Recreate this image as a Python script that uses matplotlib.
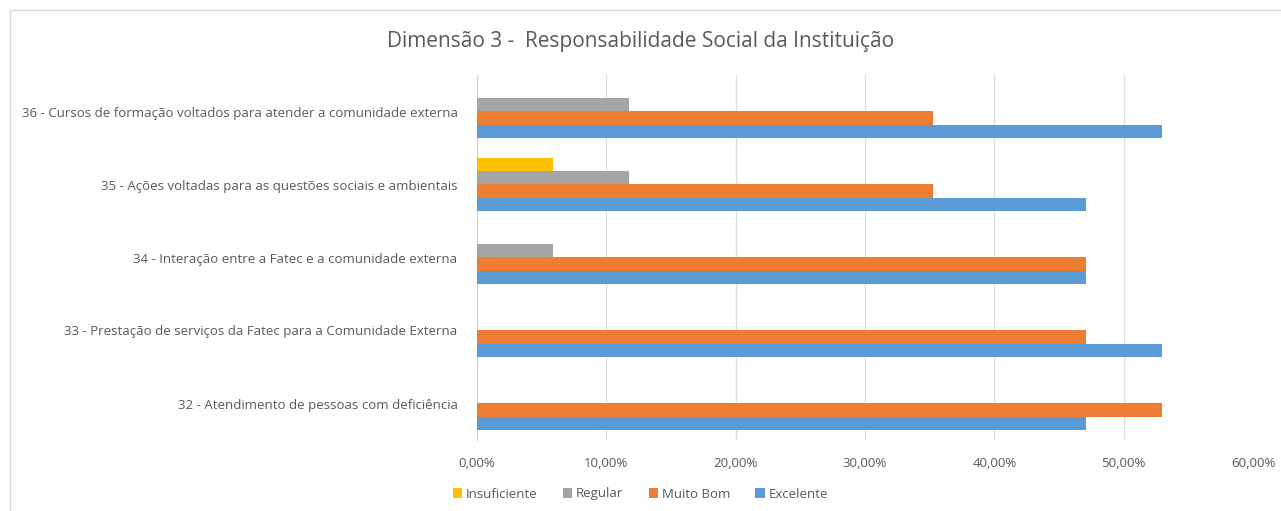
import matplotlib
matplotlib.use("Agg")
import matplotlib.pyplot as plt
from matplotlib.patches import Rectangle
from matplotlib.ticker import FuncFormatter
import numpy as np

categories = [
    "32 - Atendimento de pessoas com deficiência",
    "33 - Prestação de serviços da Fatec para a Comunidade Externa",
    "34 - Interação entre a Fatec e a comunidade externa",
    "35 - Ações voltadas para as questões sociais e ambientais",
    "36 - Cursos de formação voltados para atender a comunidade externa",
]
series_names = ["Insuficiente", "Regular", "Muito Bom", "Excelente"]
insuficiente = [0.0, 0.0, 0.0, 5.88, 0.0]
regular = [0.0, 0.0, 5.88, 11.76, 11.76]
muito_bom = [52.94, 47.06, 47.06, 35.29, 35.29]
excelente = [47.06, 52.94, 47.06, 47.06, 52.94]
colors = ["#FFC000", "#A5A5A5", "#ED7D31", "#5B9BD5"]
xticks = [0, 10, 20, 30, 40, 50, 60]

plt.rcParams['font.family'] = ['Open Sans', 'DejaVu Sans']
txt = "#595959"

fig = plt.figure(figsize=(12.81, 5.11), dpi=100)
fig.patches.append(Rectangle((10/1281, -0.1), 1.2, 1 - 10/511 + 0.1, transform=fig.transFigure,
                             fill=False, edgecolor="#D9D9D9", linewidth=1))
ax = fig.add_axes([477/1281, 1 - 440/511, (1253 - 477)/1281, (440 - 75)/511])

data = [insuficiente, regular, muito_bom, excelente]
n = len(series_names)
bh = 0.714 / n
y = np.arange(len(categories))
for i, (name, vals, c) in enumerate(zip(series_names, data, colors)):
    off = (1.5 - i) * bh
    ax.barh(y + off, vals, height=bh, color=c, label=name, zorder=3)

ax.set_ylim(-0.5, len(categories) - 0.5)
ax.set_xlim(0, 60)
ax.set_xticks(xticks)
ax.xaxis.set_major_formatter(FuncFormatter(lambda v, p: f"{v:.2f}%".replace(".", ",")))
ax.set_yticks(y)
ax.set_yticklabels(categories)
ax.tick_params(axis='both', length=0, colors=txt, labelsize=9.5)
ax.tick_params(axis='y', pad=14)
ax.tick_params(axis='x', pad=12)
ax.grid(axis='x', color="#DDDDDD", linewidth=0.9, zorder=0)
for s in ["top", "right", "bottom"]:
    ax.spines[s].set_visible(False)
ax.spines["left"].set_color("#D0D0D0")

fig.text(0.5, 1 - 42/511, "Dimensão 3 -  Responsabilidade Social da Instituição",
         ha="center", va="center", fontsize=15, color=txt)

leg = fig.legend(loc="center", bbox_to_anchor=(0.5, 1 - 494/511), ncol=4, frameon=False,
                 fontsize=9.5, handlelength=0.7, handleheight=0.7, handletextpad=0.3,
                 columnspacing=1.9)
for t in leg.get_texts():
    t.set_color(txt)

fig.savefig("out.png", dpi=100, facecolor="white")
